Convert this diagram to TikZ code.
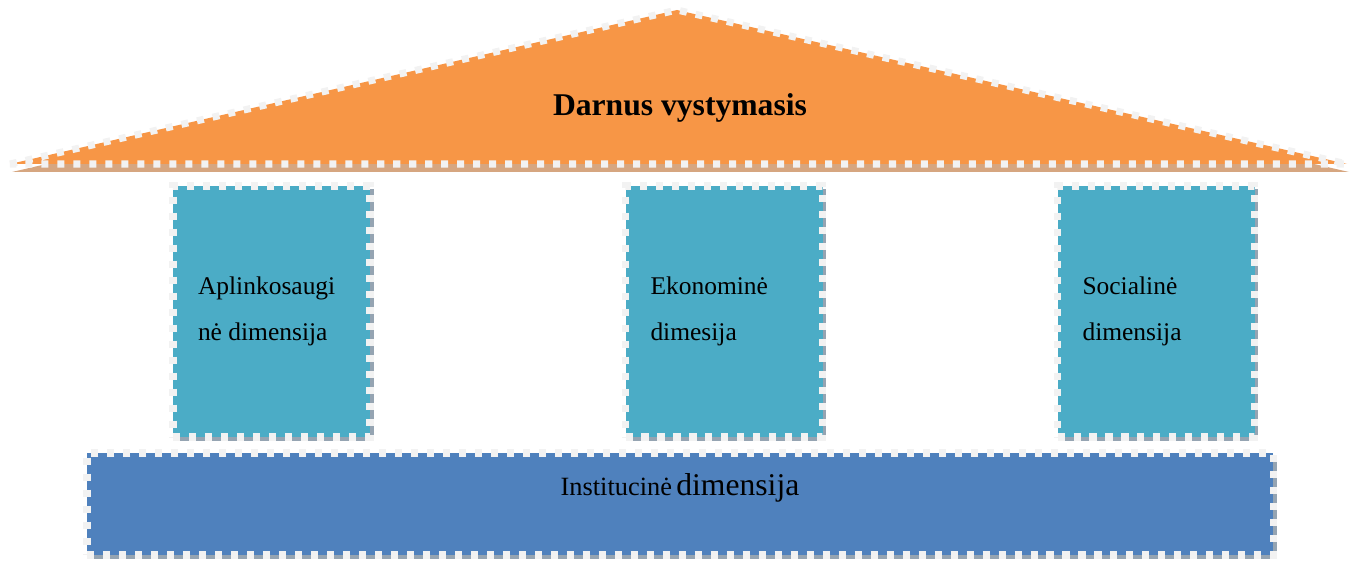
\documentclass[tikz,border=0pt]{standalone}
\usepackage{fontspec}
\setmainfont{Liberation Serif}
\usepackage{tikz}
\usetikzlibrary{positioning}
\usetikzlibrary{shadows}

\definecolor{rooforange}{HTML}{F79646}
\definecolor{rooftan}{HTML}{D6A680}
\definecolor{pillarblue}{HTML}{4BACC6}
\definecolor{baseblue}{HTML}{4F81BD}
\definecolor{dashwhite}{HTML}{F2F2F2}
\definecolor{shadowgray}{HTML}{95A4B2}

\tikzset{
  dashedge/.style={draw=dashwhite, line width=4pt, dash pattern=on 4pt off 5.1pt},
  boxshadow/.style={drop shadow={shadow xshift=0.07cm, shadow yshift=-0.07cm, fill=shadowgray, opacity=1}},
  pillar/.style={rectangle, fill=pillarblue, dashedge, boxshadow, minimum width=3.94cm, minimum height=5.02cm,
                 text width=2.94cm, inner xsep=0.5cm, inner ysep=0pt, align=flush left,
                 font=\fontsize{14.5}{26}\selectfont},
  basebox/.style={rectangle, fill=baseblue, dashedge, boxshadow, minimum width=23.72cm, minimum height=2.04cm},
  rooftext/.style={inner sep=0pt, font=\fontsize{18}{22}\selectfont\bfseries},
  basetext/.style={inner sep=0pt}
}

\begin{document}
\begin{tikzpicture}
   \useasboundingbox (0,0) rectangle (27.1,11.22);
   % roof
   \fill [rooftan] (0.24,7.78) -- (13.54,10.86) -- (26.98,7.78) -- cycle;
   \fill [rooforange] (0.2,7.94) -- (13.54,11.02) -- (26.94,7.94) -- cycle;
   \draw [dashedge, line join=bevel] (0.2,7.94) -- (13.54,11.02) -- (26.94,7.94) -- cycle;
   \node [rooftext] (title) at (13.6,9.06) {Darnus vystymasis};
   % pillars
   \node [pillar] (envdim) at (5.43,4.99)  {Aplinkosaugi\\nė dimensija\par\vspace{-0.16cm}};
   \node [pillar] (ecodim) at (14.48,4.99) {Ekonominė\\dimesija\par\vspace{-0.16cm}};
   \node [pillar] (socdim) at (23.12,4.99) {Socialinė\\dimensija\par\vspace{-0.16cm}};
   % base
   \node [basebox] (instdim) at (13.6,1.14) {};
   \node [basetext, below=0.48cm of instdim.north] (insttext)
      {{\fontsize{15}{18}\selectfont Institucinė} {\fontsize{18}{22}\selectfont dimensija}};
\end{tikzpicture}
\end{document}
